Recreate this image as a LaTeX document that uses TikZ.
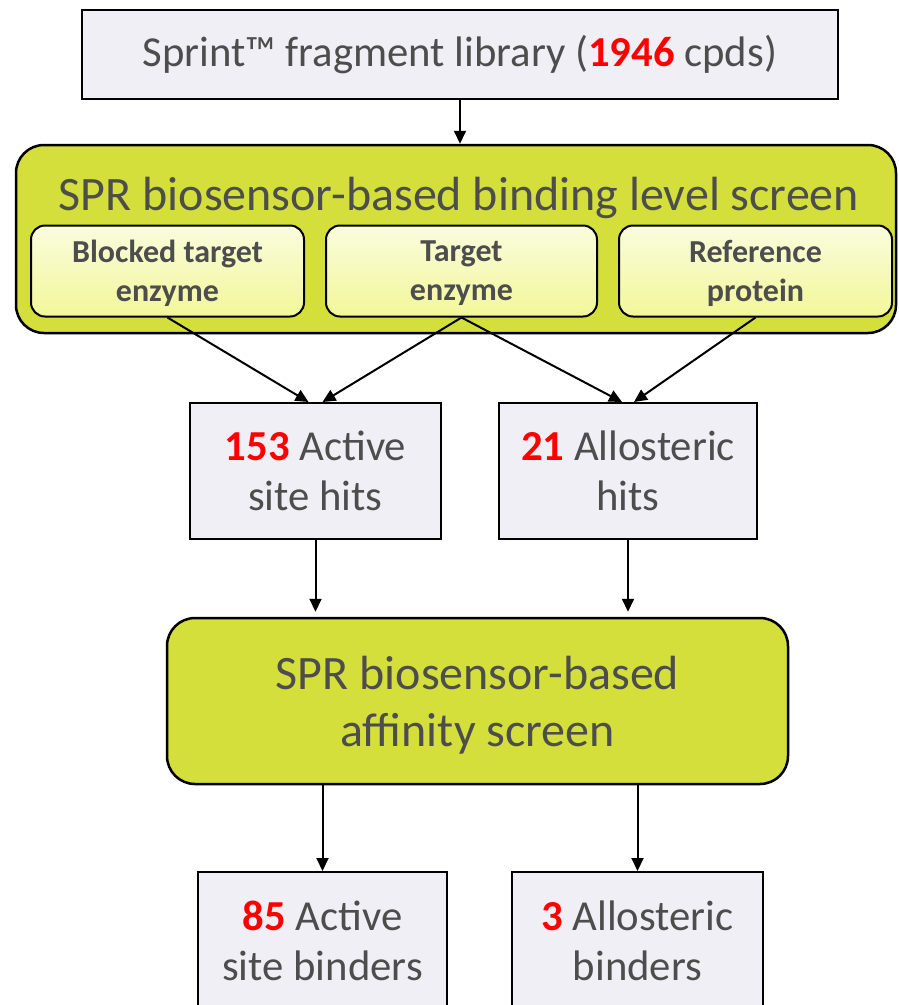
\documentclass[tikz,border=0pt]{standalone}
\usepackage{fontspec}
\setmainfont{Carlito}
\usetikzlibrary{arrows.meta,calc}
\definecolor{txt}{HTML}{4D4D4D}
\definecolor{grn}{HTML}{D5DF3B}
\definecolor{boxf}{HTML}{F0EFF5}
\definecolor{ltop}{HTML}{FAFCDC}
\definecolor{lbot}{HTML}{F2F79A}
\definecolor{num}{HTML}{FF0000}
\newcommand{\nm}[1]{\textcolor{num}{\textbf{#1}}}
\tikzset{
  plainbox/.style={draw=black, line width=2pt, fill=boxf, text=txt, align=center, inner sep=0pt, font=\fontsize{42.7}{50}\selectfont},
  greenbox/.style={draw=black, line width=2.5pt, fill=grn, rounded corners=28pt, inner sep=0pt, text=txt, align=center, text depth=0pt, font=\fontsize{48}{57}\selectfont},
  subbox/.style={draw=black, line width=2pt, rounded corners=14pt, top color=ltop, bottom color=lbot, text=txt, text depth=0pt, font=\bfseries\fontsize{32}{39}\selectfont, align=center, inner sep=0pt},
  arr/.style={-{Triangle[width=12pt,length=13pt]}, line width=2pt}
}
\begin{document}
\begin{tikzpicture}[x=1pt,y=-1pt]
\useasboundingbox (0,0) rectangle (898,1005);
\node[plainbox, minimum width=756pt, minimum height=89pt] (top) at (460,54.5) {Sprint™ fragment library (\nm{1946} cpds)};
\node[greenbox, minimum width=880pt, minimum height=188pt] (screen) at (456,239) {};
\node[text=txt, font=\fontsize{48}{57}\selectfont, inner sep=0pt] (title) at (459,198) {SPR biosensor-based binding level screen};
\node[subbox, minimum width=273pt, minimum height=91pt] (b1) at (167.5,271) {Blocked target\\enzyme};
\node[subbox, minimum width=271pt, minimum height=91pt] (b2) at (461.5,271) {Target\\enzyme};
\node[subbox, minimum width=273pt, minimum height=91pt] (b3) at (755.5,271) {Reference\\protein};
\node[plainbox, minimum width=251pt, minimum height=136pt] (h1) at (315.5,471) {\nm{153} Active\\site hits};
\node[plainbox, minimum width=258pt, minimum height=136pt] (h2) at (628,471) {\nm{21} Allosteric\\hits};
\node[greenbox, minimum width=621pt, minimum height=166pt] (aff) at (477.5,701) {SPR biosensor-based\\affinity screen};
\node[plainbox, minimum width=249pt, minimum height=138pt] (r1) at (322.5,941) {\nm{85} Active\\site binders};
\node[plainbox, minimum width=251pt, minimum height=138pt] (r2) at (637.5,941) {\nm{3} Allosteric\\binders};
\draw[arr] (top.south) -- (top.south |- screen.north);
\draw[arr] (b1.south) -- ($(h1.north)+(-7,0)$);
\draw[arr] (b2.south) -- ($(h1.north)+(7,0)$);
\draw[arr] (b2.south) -- ($(h2.north)+(-6,0)$);
\draw[arr] (b3.south) -- ($(h2.north)+(6,0)$);
\draw[arr] (h1.south) -- ($(h1.south |- aff.north)+(0,-5)$);
\draw[arr] (h2.south) -- ($(h2.south |- aff.north)+(0,-5)$);
\draw[arr] (r1.north |- aff.south) -- (r1.north);
\draw[arr] (r2.north |- aff.south) -- (r2.north);
\end{tikzpicture}
\end{document}
